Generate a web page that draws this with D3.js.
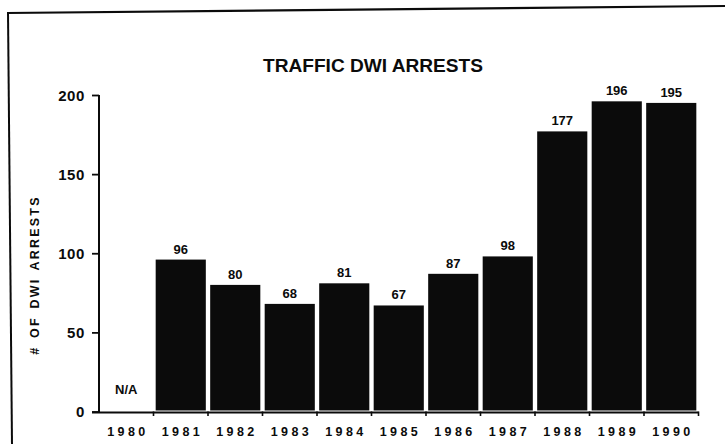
<!DOCTYPE html>
<html>
<head>
<meta charset="utf-8">
<script src="https://cdn.jsdelivr.net/npm/d3@7"></script>
<style>
  html, body { margin: 0; padding: 0; background: #fff; }
  svg { display: block; font-family: "Liberation Sans", Arial, Helvetica, sans-serif; font-weight: bold; }
</style>
</head>
<body>
<svg id="chart" width="725" height="444"></svg>
<script>
const years = ["1980","1981","1982","1983","1984","1985","1986","1987","1988","1989","1990"];
const arrests = [null, 96, 80, 68, 81, 67, 87, 98, 177, 196, 195];
const yTicks = [0, 50, 100, 150, 200];
const titleText = "TRAFFIC DWI ARRESTS";
const yLabel = "# OF DWI ARRESTS";
const naLabel = "N/A";

const svg = d3.select("#chart");
const ink = "#0b0b0b";

// page frame (scanned sheet border)
svg.append("path").attr("d", "M7,13 L725,6").attr("stroke", ink).attr("stroke-width", 2.2).attr("fill", "none");
svg.append("path").attr("d", "M8,12 L12,444").attr("stroke", ink).attr("stroke-width", 2).attr("fill", "none");

const left = 99, right = 698.5;
const x = d3.scaleBand().domain(years).range([left, right]).paddingInner(0.08).paddingOuter(0.04);
const y = d3.scaleLinear().domain([0, 200]).range([411.5, 95]);
const gap = (x.step() - x.bandwidth()) / 2;

// bars
const data = years.map((d, i) => ({ year: d, v: arrests[i] }));
svg.append("g").selectAll("rect").data(data.filter(d => d.v != null)).join("rect")
  .attr("x", d => x(d.year))
  .attr("y", d => y(d.v))
  .attr("width", x.bandwidth())
  .attr("height", d => y(0) - y(d.v) - 1)
  .attr("fill", ink);

// value labels
svg.append("g").selectAll("text").data(data).join("text")
  .attr("x", d => x(d.year) + x.bandwidth() / 2)
  .attr("y", d => d.v == null ? y(0) - 18 : y(d.v) - 6)
  .attr("text-anchor", "middle")
  .attr("font-size", 13)
  .attr("fill", ink)
  .text(d => d.v == null ? naLabel : d.v);

// y axis
const yAxis = d3.axisLeft(y).tickValues(yTicks).tickSize(7).tickPadding(7);
const gy = svg.append("g").attr("transform", `translate(${left},0)`).call(yAxis);
gy.select(".domain").remove();
gy.append("line").attr("x1", 0).attr("x2", 0).attr("y1", y(0) + 1).attr("y2", y(200))
  .attr("stroke", ink).attr("stroke-width", 2);
gy.selectAll(".tick line").attr("stroke", ink).attr("stroke-width", 1.8);
gy.selectAll(".tick text").attr("fill", ink).attr("font-size", 15)
  .attr("font-family", "'Liberation Sans', Arial, sans-serif").attr("font-weight", "bold")
  .attr("letter-spacing", 0.6).attr("dy", "0.36em");

// x axis (ticks at band boundaries)
const gx = svg.append("g");
gx.append("line").attr("x1", left - 7).attr("x2", right).attr("y1", y(0) + 1).attr("y2", y(0) + 1)
  .attr("stroke", ink).attr("stroke-width", 2.2);
gx.selectAll("line.tk").data(years).join("line").attr("class", "tk")
  .attr("x1", d => x(d) + x.bandwidth() + gap).attr("x2", d => x(d) + x.bandwidth() + gap)
  .attr("y1", y(0)).attr("y2", y(0) + 4.5)
  .attr("stroke", ink).attr("stroke-width", 1.6);
gx.selectAll("text").data(years).join("text")
  .attr("x", d => x(d) + x.bandwidth() / 2 + 1.7)
  .attr("y", 436)
  .attr("text-anchor", "middle")
  .attr("font-size", 12.5)
  .attr("letter-spacing", 3.4)
  .attr("fill", ink)
  .text(d => d);

// title
svg.append("text")
  .attr("x", 373).attr("y", 72)
  .attr("text-anchor", "middle")
  .attr("font-size", 18)
  .attr("textLength", 220).attr("lengthAdjust", "spacingAndGlyphs")
  .attr("fill", ink)
  .text(titleText);

// y label
svg.append("text")
  .attr("transform", "translate(39,275) rotate(-90)")
  .attr("text-anchor", "middle")
  .attr("font-size", 12.5)
  .attr("letter-spacing", 2.2)
  .attr("word-spacing", 2)
  .attr("fill", ink)
  .text(yLabel);
</script>
</body>
</html>
